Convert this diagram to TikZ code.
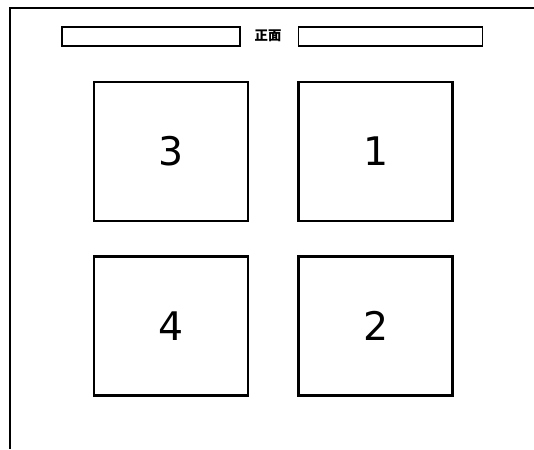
\documentclass[tikz,border=0pt]{standalone}
\usepackage{fontspec}
\setsansfont{DejaVu Sans}
\newfontfamily\cjkfont{Noto Sans CJK SC}
\usetikzlibrary{positioning}

\begin{document}
\begin{tikzpicture}[
        x=0.025cm, y=-0.025cm,
        % Estilos das caixas
        seatbox/.style={rectangle, draw=black, line width=1.9pt, minimum width=3.85cm, minimum height=3.47cm, font=\sffamily\fontsize{28}{30}\selectfont},
        barbox/.style={rectangle, draw=black, line width=1.3pt, minimum width=4.45cm, minimum height=0.47cm},
        frameline/.style={draw=black, line width=1pt}
    ]
    \useasboundingbox (0,0) rectangle (534,449);

    % Moldura exterior
    \draw[frameline] (534,8) -- (10,8) -- (10,449);

    % Barra superior
    \node[font=\cjkfont\bfseries\fontsize{9.5}{10}\selectfont] (front) at (268,36) {正面};
    \node[barbox] (barleft) at (151,36.5) {};
    \node[barbox, minimum width=4.6cm] (barright) at (390.5,36.5) {};

    % Caixas numeradas
    \node[seatbox] (three) at (171,151.5) {3};
    \node[seatbox, right=1.2cm of three] (one) {1};
    \node[seatbox, below=0.82cm of three] (four) {4};
    \node[seatbox, below=0.82cm of one] (two) {2};

\end{tikzpicture}
\end{document}
